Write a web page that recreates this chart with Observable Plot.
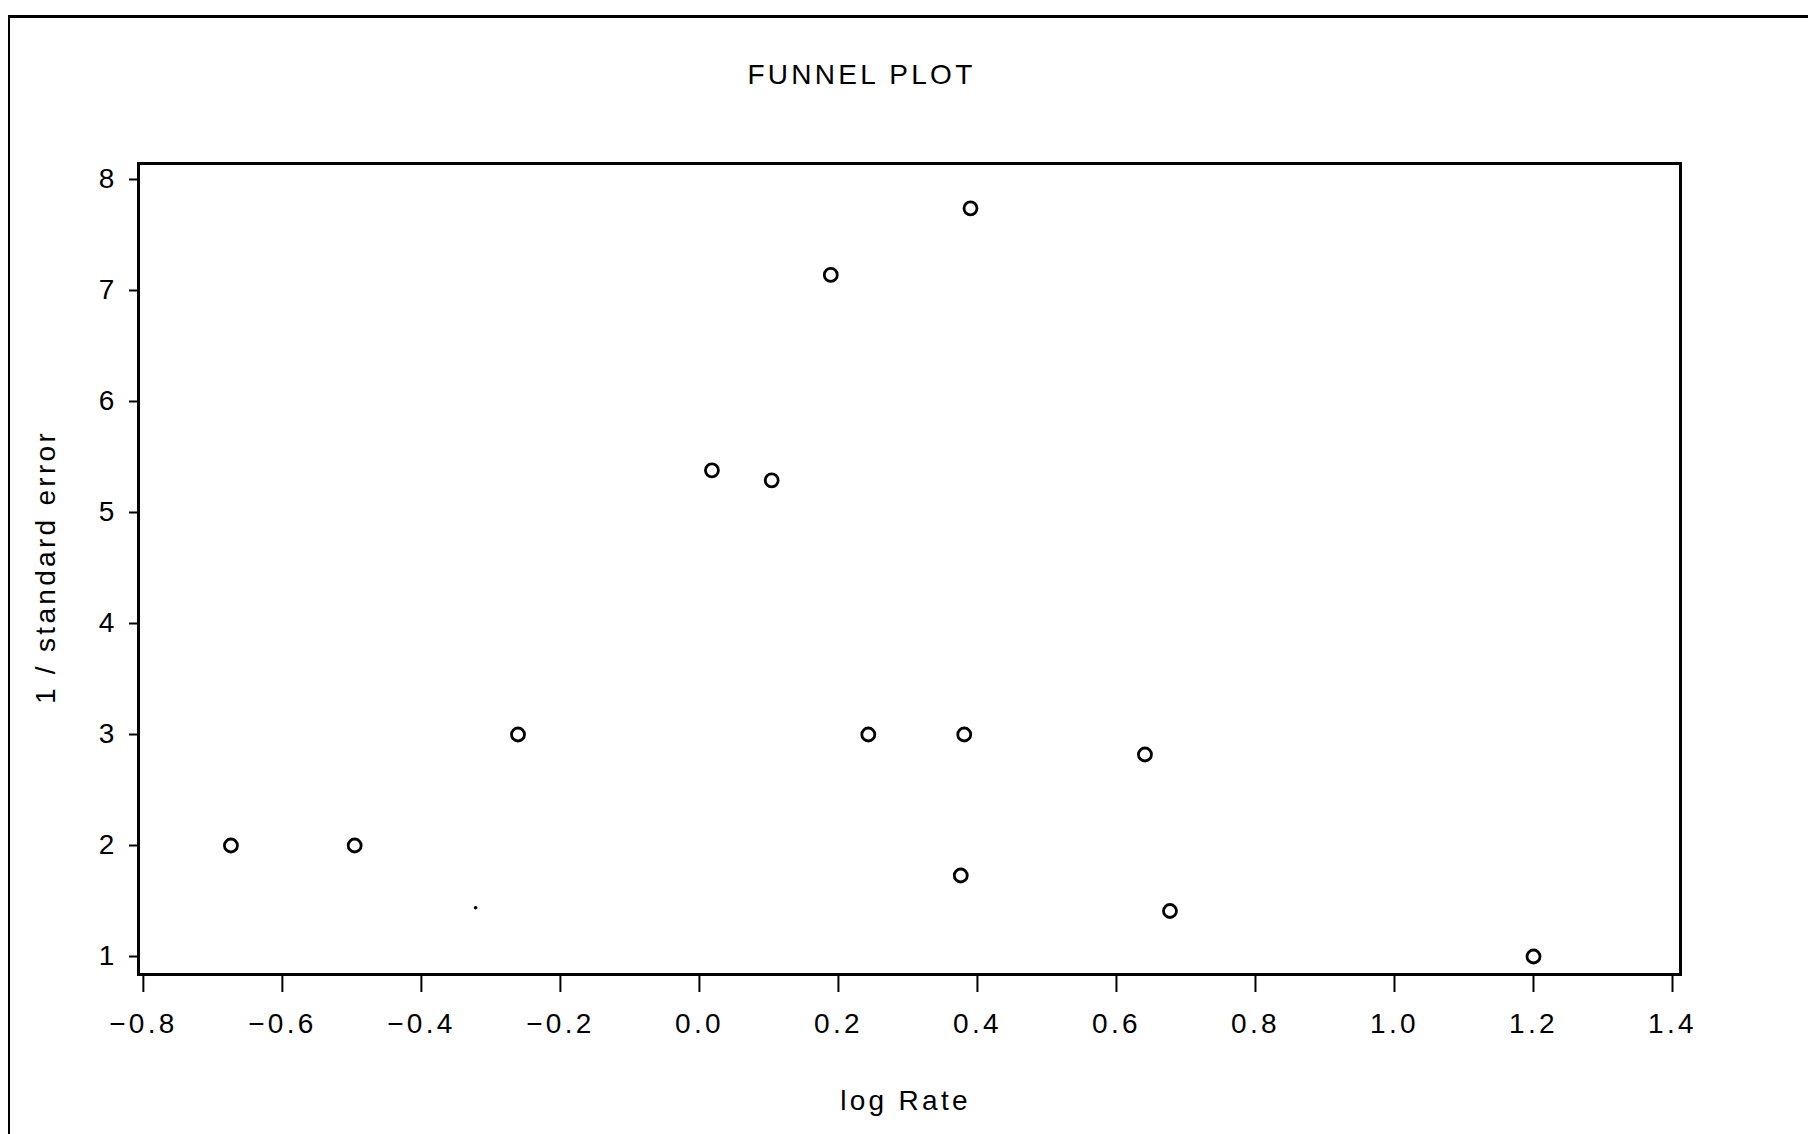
<!DOCTYPE html>
<html>
<head>
<meta charset="utf-8">
<script src="https://cdn.jsdelivr.net/npm/d3@7"></script>
<script src="https://cdn.jsdelivr.net/npm/@observablehq/plot@0.6"></script>
<style>
  html, body { margin: 0; padding: 0; background: #fff; }
  #page { position: relative; width: 1808px; height: 1134px; overflow: hidden; background: #fff; }
  #border { position: absolute; left: 8px; top: 15px; width: 1830px; height: 1200px;
            border-left: 2px solid #000; border-top: 3px solid #000; }
  #chart { position: absolute; left: 0; top: 0; }
</style>
</head>
<body>
<div id="page"><div id="border"></div><div id="chart"></div></div>
<script>
// Study estimates
const logRate = [-0.674, -0.496, -0.261, 0.018, 0.104, 0.189, 0.390, 0.243, 0.381, 0.641, 0.376, 0.677, 1.200];
const invSE   = [ 2.00,   2.00,   3.00,  5.38,  5.29,  7.14,  7.74,  3.00,  3.00,  2.82,  1.73,  1.41,  1.00];
// small stray mark visible in the plot area
const strayX = [-0.322];
const strayY = [1.44];
const xTicks = [-0.8, -0.6, -0.4, -0.2, 0.0, 0.2, 0.4, 0.6, 0.8, 1.0, 1.2, 1.4];
const yTicks = [1, 2, 3, 4, 5, 6, 7, 8];
const titleText = "FUNNEL PLOT";
const xLabel = "log Rate";
const yLabel = "1 / standard error";

const points = logRate.map((x, i) => ({x, y: invSE[i]}));
const stray = strayX.map((x, i) => ({x, y: strayY[i]}));
const fmt = d3.format(".1f");
const font = "'Liberation Sans', Arial, sans-serif";

const chart = Plot.plot({
  width: 1808,
  height: 1134,
  marginLeft: 138,
  marginRight: 128,
  marginTop: 163,
  marginBottom: 160,
  style: {fontFamily: font, fontSize: "28px", background: "transparent", color: "#000", letterSpacing: "3.3px"},
  x: {domain: [-0.807, 1.4115]},
  y: {domain: [0.838, 8.144]},
  marks: [
    Plot.frame({stroke: "#000", strokeWidth: 3}),
    Plot.axisX({ticks: xTicks, tickFormat: fmt, tickSize: 18, tickPadding: 21, strokeWidth: 2, label: null, fontSize: 28}),
    Plot.axisY({ticks: yTicks, tickFormat: d3.format("d"), tickSize: 9, tickPadding: 12, strokeWidth: 2, label: null, fontSize: 28}),
    Plot.dot(points, {x: "x", y: "y", r: 6.5, stroke: "#000", strokeWidth: 2.8, fill: "none"}),
    Plot.dot(stray, {x: "x", y: "y", r: 1.8, fill: "#000", stroke: "none"}),
    Plot.text([titleText], {text: d => d, frameAnchor: "top", textAnchor: "middle", lineAnchor: "middle", dx: -48, dy: -88, fontSize: 28}),
    Plot.text([xLabel], {text: d => d, frameAnchor: "bottom", textAnchor: "middle", lineAnchor: "middle", dx: -4, dy: 127, fontSize: 28}),
    Plot.text([yLabel], {text: d => d, frameAnchor: "left", textAnchor: "middle", lineAnchor: "middle", dx: -92, dy: -2, rotate: -90, fontSize: 28})
  ]
});
document.getElementById("chart").appendChild(chart);
</script>
</body>
</html>
